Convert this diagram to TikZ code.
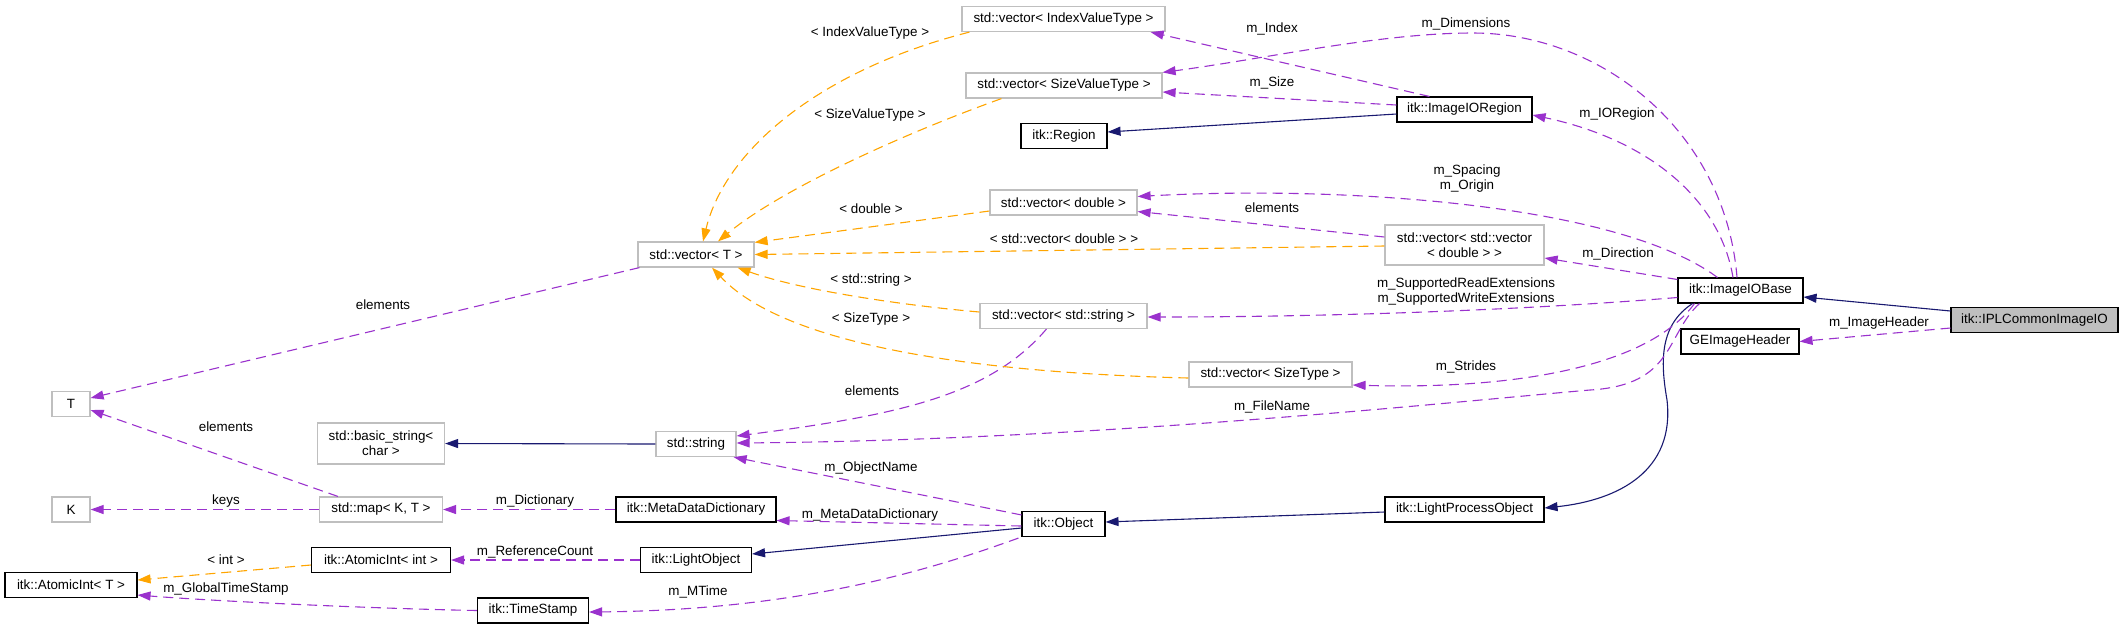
\documentclass[tikz,border=0pt]{standalone}
\usepackage{fontspec}
\setmainfont{Liberation Sans}
\usetikzlibrary{arrows.meta,calc}
\definecolor{mblue}{HTML}{191970}
\definecolor{dpurple}{HTML}{9A32CD}
\definecolor{dorange}{HTML}{FFA500}
\definecolor{gborder}{HTML}{BFBFBF}
\definecolor{gfill}{HTML}{BFBFBF}
\begin{document}
\begin{tikzpicture}[x=0.5pt,y=-0.5pt,
  every node/.style={font=\fontsize{6.7}{7.5}\selectfont, inner sep=0pt},
  cls/.style={draw=black, line width=0.55pt, fill=white, minimum height=12.5pt, align=center},
  ext/.style={draw=gborder, line width=0.6pt, fill=white, minimum height=12.5pt, align=center},
  cur/.style={cls, fill=gfill},
  lbl/.style={align=center},
  tipx/.style={-{Triangle[length=6.5pt,width=4.5pt]}},
  inh/.style={draw=mblue, line width=0.55pt, tipx},
  mem/.style={draw=dpurple, line width=0.55pt, dash pattern=on 5pt off 3pt, tipx},
  tpl/.style={draw=dorange, line width=0.55pt, dash pattern=on 5pt off 3pt, tipx}]
\useasboundingbox (0,0) rectangle (2124,629);

% ---------- nodes ----------
\node[cur, minimum width=83.5pt] (ipl) at (2034.5,320) {itk::IPLCommonImageIO};
\node[cls, minimum width=62.5pt] (iobase) at (1740.5,290.5) {itk::ImageIOBase};
\node[cls, minimum width=59pt] (geh) at (1740,341.5) {GEImageHeader};
\node[cls, minimum width=67.5pt] (ioregion) at (1464.5,109.5) {itk::ImageIORegion};
\node[ext, minimum width=79.5pt, minimum height=20pt] (vv) at (1464.5,245) {std::vector{\textless} std::vector\\{\textless} double {\textgreater} {\textgreater}};
\node[cls, minimum width=79.5pt] (lpo) at (1464.5,509.5) {itk::LightProcessObject};
\node[ext, minimum width=81.5pt] (vsizetype) at (1270.5,374.5) {std::vector{\textless} SizeType {\textgreater}};
\node[ext, minimum width=101.5pt] (vindex) at (1063.5,19) {std::vector{\textless} IndexValueType {\textgreater}};
\node[ext, minimum width=98pt] (vsizevalue) at (1064,85.5) {std::vector{\textless} SizeValueType {\textgreater}};
\node[cls, minimum width=43pt] (region) at (1064,136) {itk::Region};
\node[ext, minimum width=73.5pt] (vdouble) at (1063.5,202.5) {std::vector{\textless} double {\textgreater}};
\node[ext, minimum width=83.5pt] (vstring) at (1063.5,316) {std::vector{\textless} std::string {\textgreater}};
\node[cls, minimum width=41.5pt] (object) at (1063.5,524) {itk::Object};
\node[ext, minimum width=58pt] (vT) at (696,254.5) {std::vector{\textless} T {\textgreater}};
\node[ext, minimum width=40pt] (string) at (696,444) {std::string};
\node[cls, minimum width=80pt] (mdd) at (696,509.5) {itk::MetaDataDictionary};
\node[cls, minimum width=55.5pt] (lightobj) at (696,560) {itk::LightObject};
\node[cls, minimum width=55.5pt] (timestamp) at (533,610.5) {itk::TimeStamp};
\node[ext, minimum width=63.5pt, minimum height=20.5pt] (bstring) at (381,443.5) {std::basic\_string{\textless}\\char {\textgreater}};
\node[ext, minimum width=61.5pt] (map) at (381,509.5) {std::map{\textless} K, T {\textgreater}};
\node[cls, minimum width=69.5pt] (aint) at (381,560) {itk::AtomicInt{\textless} int {\textgreater}};
\node[ext, minimum width=19pt] (T) at (71,404) {T};
\node[ext, minimum width=19pt] (K) at (71,509.5) {K};
\node[cls, minimum width=66pt] (aintT) at (71,585) {itk::AtomicInt{\textless} T {\textgreater}};

% ---------- inheritance ----------
\draw[inh] ($(ipl.west)+(0,-9)$) -- ($(iobase.east)+(0,6.5)$);
\draw[inh] ($(iobase.south west)+(15,0)$) .. controls (1660,325) and (1660,360) .. (1667,400)
           .. controls (1675,470) and (1620,500) .. ($(lpo.east)+(0,-1.5)$);
\draw[inh] ($(lpo.west)+(0,2.5)$) -- ($(object.east)+(0,-2)$);
\draw[inh] ($(object.west)+(0,4)$) -- ($(lightobj.east)+(0,-6)$);
\draw[inh] ($(ioregion.west)+(0,4.5)$) -- ($(region.east)+(0,-4)$);
\draw[inh] (string.west) -- (bstring.east);

% ---------- members ----------
\draw[mem] ($(ioregion.north west)+(33,0)$) -- ($(vindex.south east)+(-15,0)$);
\draw[mem] ($(ioregion.west)+(0,-4.5)$) -- ($(vsizevalue.east)+(0,6.5)$);
\draw[mem] ($(iobase.north)+(-3.5,0)$) .. controls (1725,130) and (1600,33) .. (1473,33)
           .. controls (1380,33) and (1270,58) .. (vsizevalue.north east);
\draw[mem] ($(iobase.north)+(-7.5,0)$) .. controls (1720,200) and (1650,140) .. ($(ioregion.east)+(0,5.5)$);
\draw[mem] ($(iobase.north west)+(40,0)$) .. controls (1620,205) and (1350,185) .. ($(vdouble.east)+(0,-6)$);
\draw[mem] ($(vv.west)+(0,-8)$) -- ($(vdouble.east)+(0,9)$);
\draw[mem] ($(iobase.west)+(0,-11)$) -- ($(vv.east)+(0,13)$);
\draw[mem] ($(iobase.west)+(0,7)$) .. controls (1500,312) and (1300,317) .. ($(vstring.east)+(0,1)$);
\draw[mem] ($(ipl.west)+(0,8)$) -- ($(geh.east)+(0,0)$);
\draw[mem] ($(iobase.south west)+(17,0)$) .. controls (1650,365) and (1520,390) .. ($(vsizetype.east)+(0,10.5)$);
\draw[mem] ($(iobase.south west)+(22,0)$) .. controls (1665,335) and (1675,385) .. (1590,390)
           .. controls (1450,402) and (1100,440) .. ($(string.east)+(0,-1)$);
\draw[mem] ($(vstring.south west)+(67,0)$) .. controls (990,395) and (900,415) .. ($(string.east)+(0,-8)$);
\draw[mem] ($(object.north west)+(0,4)$) -- ($(string.south east)+(-3,0)$);
\draw[mem] ($(object.west)+(0,2)$) -- ($(mdd.east)+(0,11)$);
\draw[mem] ($(object.south west)+(-3,1)$) .. controls (930,570) and (800,610) .. ($(timestamp.east)+(0,1.5)$);
\draw[mem] (lightobj.west) -- (aint.east);
\draw[mem] (mdd.west) -- (map.east);
\draw[mem] (map.west) -- (K.east);
\draw[mem] ($(map.north west)+(19,0)$) -- ($(T.east)+(0,6)$);
\draw[mem] ($(vT.south west)+(2,0)$) -- ($(T.east)+(0,-6)$);
\draw[mem] (timestamp.west) .. controls (350,608) and (200,600) .. ($(aintT.east)+(0,10)$);

% ---------- templates ----------
\draw[tpl] ($(vindex.south west)+(8,0)$) .. controls (820,70) and (725,150) .. ($(vT.north)+(7,0)$);
\draw[tpl] ($(vsizevalue.south west)+(36,0)$) .. controls (900,135) and (780,190) .. ($(vT.north)+(22,0)$);
\draw[tpl] ($(vdouble.west)+(0,8.5)$) -- ($(vT.north east)+(0,1)$);
\draw[tpl] ($(vv.west)+(0,1)$) -- (vT.east);
\draw[tpl] ($(vstring.west)+(0,-4)$) .. controls (900,305) and (800,290) .. ($(vT.south east)+(-17,0)$);
\draw[tpl] ($(vsizetype.west)+(0,3.5)$) .. controls (950,372) and (780,340) .. ($(vT.south)+(16,0)$);
\draw[tpl] ($(aint.west)+(0,5)$) -- ($(aintT.east)+(0,-5)$);

% ---------- labels ----------
\node[lbl] (l1) at (1272,29) {m\_Index};
\node[lbl] (l2) at (1466,24) {m\_Dimensions};
\node[lbl] (l3) at (1272,83) {m\_Size};
\node[lbl] (l4) at (1617,114) {m\_IORegion};
\node[lbl] (l5) at (1467,179) {m\_Spacing\\m\_Origin};
\node[lbl] (l6) at (1272,208) {elements};
\node[lbl] (l7) at (1618,254) {m\_Direction};
\node[lbl] (l8) at (1466,292) {m\_SupportedReadExtensions\\m\_SupportedWriteExtensions};
\node[lbl] (l9) at (1879,323) {m\_ImageHeader};
\node[lbl] (l10) at (1466,367) {m\_Strides};
\node[lbl] (l11) at (1272,407) {m\_FileName};
\node[lbl] (l12) at (870,33) {{\textless} IndexValueType {\textgreater}};
\node[lbl] (l13) at (870,115) {{\textless} SizeValueType {\textgreater}};
\node[lbl] (l14) at (871,209) {{\textless} double {\textgreater}};
\node[lbl] (l15) at (1064,239) {{\textless} std::vector{\textless} double {\textgreater} {\textgreater}};
\node[lbl] (l16) at (871,280) {{\textless} std::string {\textgreater}};
\node[lbl] (l17) at (871,319) {{\textless} SizeType {\textgreater}};
\node[lbl] (l18) at (872,391) {elements};
\node[lbl] (l19) at (871,468) {m\_ObjectName};
\node[lbl] (l20) at (870,515) {m\_MetaDataDictionary};
\node[lbl] (l21) at (698,592) {m\_MTime};
\node[lbl] (l22) at (535,501) {m\_Dictionary};
\node[lbl] (l23) at (535,552) {m\_ReferenceCount};
\node[lbl] (l24) at (383,305) {elements};
\node[lbl] (l25) at (226,427) {elements};
\node[lbl] (l26) at (226,501) {keys};
\node[lbl] (l27) at (226,560) {{\textless} int {\textgreater}};
\node[lbl] (l28) at (226,589) {m\_GlobalTimeStamp};
\end{tikzpicture}
\end{document}
